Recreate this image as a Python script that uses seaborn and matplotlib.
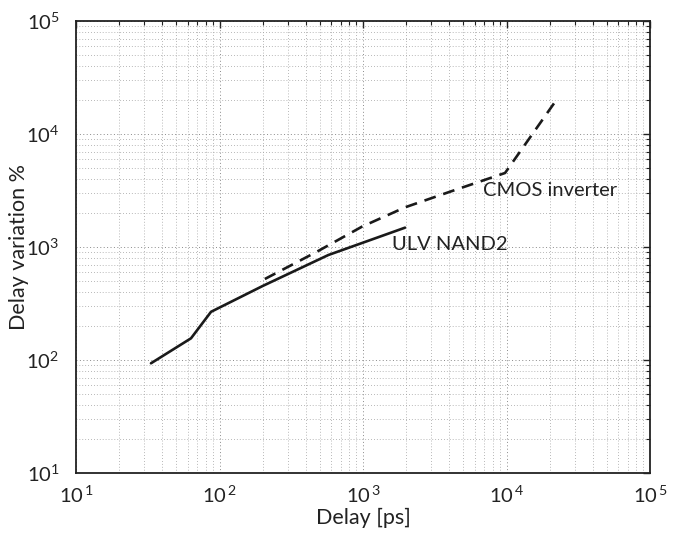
import matplotlib
matplotlib.use("Agg")
import matplotlib.pyplot as plt
import matplotlib.ticker as mticker
import seaborn as sns
import pandas as pd
import numpy as np

# Data
nand_delay = [33.3, 63.3, 87.3, 200, 573, 1963]
nand_var = [93.5, 155.6, 267, 452, 849, 1483]
cmos_delay = [207, 477, 984, 1963, 4036, 9770, 22960]
cmos_var = [521, 908, 1514, 2244, 3084, 4519, 21150]

label_nand = "ULV NAND2"
label_cmos = "CMOS inverter"
x_label = "Delay [ps]"
y_label = "Delay variation %"

df_nand = pd.DataFrame({"delay": nand_delay, "var": nand_var})
df_cmos = pd.DataFrame({"delay": cmos_delay, "var": cmos_var})

sns.set_style("white")
plt.rcParams['font.family'] = ['Lato', 'DejaVu Sans']
plt.rcParams['mathtext.fontset'] = 'custom'
plt.rcParams['mathtext.rm'] = 'Lato'
plt.rcParams['mathtext.it'] = 'Lato'

fig = plt.figure(figsize=(6.76, 5.40), dpi=100)
ax = fig.add_axes([76/676, 1-473/540, (650-76)/676, (473-21)/540])

sns.lineplot(data=df_nand, x="delay", y="var", ax=ax, color="#1a1a1a",
             linewidth=1.9, sort=False, estimator=None)
sns.lineplot(data=df_cmos, x="delay", y="var", ax=ax, color="#1a1a1a",
             linewidth=1.9, sort=False, estimator=None, dashes=False,
             linestyle=(0, (4.5, 3)))

ax.set_xscale("log")
ax.set_yscale("log")
ax.set_xlim(10, 1e5)
ax.set_ylim(10, 1e5)

ax.xaxis.set_major_locator(mticker.LogLocator(base=10, numticks=10))
ax.yaxis.set_major_locator(mticker.LogLocator(base=10, numticks=10))
ax.xaxis.set_minor_locator(mticker.LogLocator(base=10, subs=np.arange(2, 10), numticks=20))
ax.yaxis.set_minor_locator(mticker.LogLocator(base=10, subs=np.arange(2, 10), numticks=20))
ax.xaxis.set_minor_formatter(mticker.NullFormatter())
ax.yaxis.set_minor_formatter(mticker.NullFormatter())
ax.xaxis.set_major_formatter(mticker.FuncFormatter(lambda v, p: r"$10^{\,%d}$" % round(np.log10(v))))
ax.yaxis.set_major_formatter(mticker.FuncFormatter(lambda v, p: r"$10^{%d}$" % round(np.log10(v))))

ax.grid(True, which="major", linestyle=(0, (1, 2.5)), color="#8a8a8a", linewidth=0.7)
ax.grid(True, which="minor", linestyle=(0, (1, 2.5)), color="#a0a0a0", linewidth=0.6)

ax.tick_params(which="both", direction="in", top=True, right=True, colors="#222222",
               labelcolor="#222222")
ax.tick_params(which="major", length=5, width=1, labelsize=14.5)
ax.tick_params(axis="x", which="major", pad=8)
ax.tick_params(axis="y", which="major", pad=12)
ax.tick_params(which="minor", length=3, width=0.8)

for s in ax.spines.values():
    s.set_color("#222222")
    s.set_linewidth(1.3)

ax.set_xlabel(x_label, fontsize=15.5, color="#222222")
ax.set_ylabel(y_label, fontsize=15.5, color="#222222")
ax.xaxis.set_label_coords(0.5, -0.077)
ax.yaxis.set_label_coords(-0.082, 0.5)

ax.text(6823, 3133, label_cmos, fontsize=14.5, color="#222222", va="center", ha="left")
ax.text(1585, 1042, label_nand, fontsize=14.5, color="#222222", va="center", ha="left")

fig.savefig("out.png", dpi=100)
